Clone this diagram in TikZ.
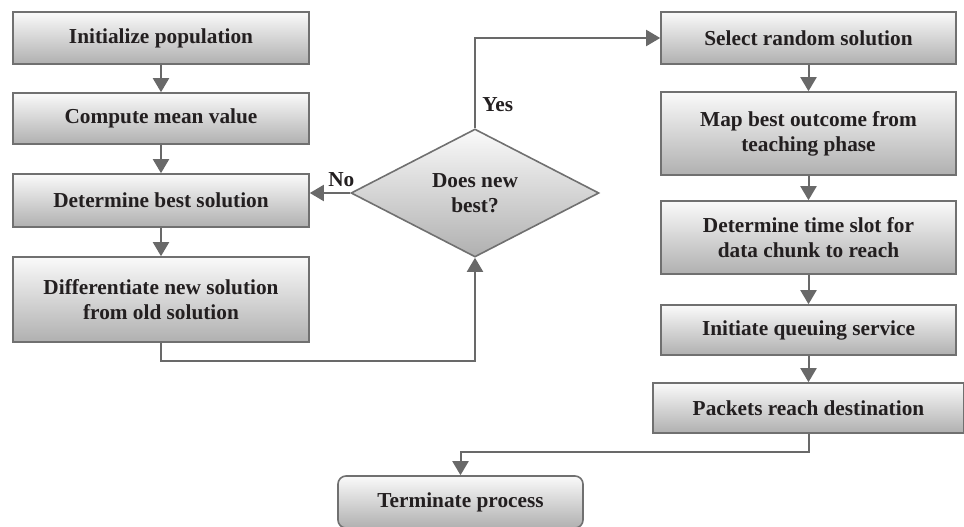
\documentclass[tikz,border=0pt]{standalone}
\usepackage{fontspec}
\setmainfont{Liberation Serif}
\usetikzlibrary{shapes.geometric, arrows.meta}

\definecolor{linie}{RGB}{105,105,105}
\definecolor{rahmen}{RGB}{112,112,112}
\definecolor{schrift}{RGB}{35,31,32}

\tikzset{
	kasten/.style={draw=rahmen, line width=1.6pt, top color=gray!4, bottom color=gray!62, text=schrift, font=\fontsize{21.3}{25}\selectfont\bfseries, align=center, inner sep=0pt},
	raute/.style={kasten, diamond, aspect=1.94},
	pfeil/.style={draw=linie, line width=2pt, -{Triangle[width=16pt,length=14pt]}},
	marke/.style={text=schrift, font=\fontsize{21.3}{25}\selectfont\bfseries}
}

\begin{document}
\begin{tikzpicture}[x=1pt, y=-1pt]
		\useasboundingbox (0,0) rectangle (964,527);
		
		% linke Spalte
		\node[kasten, minimum width=296pt, minimum height=52pt] (init) at (161,38) {Initialize population};
		\node[kasten, minimum width=296pt, minimum height=51pt] (mean) at (161,118.5) {Compute mean value};
		\node[kasten, minimum width=296pt, minimum height=53pt] (best) at (161,200.5) {Determine best solution};
		\node[kasten, minimum width=296pt, minimum height=85pt] (diff) at (161,299.5) {Differentiate new solution\\from old solution};
		
		% Entscheidung
		\node[raute, minimum width=248pt, minimum height=128pt] (dia) at (475,193) {Does new\\best?};
		
		% rechte Spalte
		\node[kasten, minimum width=295pt, minimum height=52pt] (sel) at (808.5,38) {Select random solution};
		\node[kasten, minimum width=295pt, minimum height=83pt] (map) at (808.5,133.5) {Map best outcome from\\teaching phase};
		\node[kasten, minimum width=295pt, minimum height=73pt] (slot) at (808.5,237.5) {Determine time slot for\\data chunk to reach};
		\node[kasten, minimum width=295pt, minimum height=50pt] (queue) at (808.5,330) {Initiate queuing service};
		\node[kasten, minimum width=311pt, minimum height=50pt] (pkt) at (808.5,408) {Packets reach destination};
		
		% Ende
		\node[kasten, rounded corners=8pt, minimum width=245pt, minimum height=52pt] (term) at (460.5,502) {Terminate process};
		
		% Pfeile
		\draw[pfeil] (init) -- (mean);
		\draw[pfeil] (mean) -- (best);
		\draw[pfeil] (best) -- (diff);
		\draw[pfeil] (diff.south) -- ++(0,18) -| (dia.south);
		\draw[pfeil] (dia.west) -- node[marke, above, pos=0.22, yshift=2pt] (nein) {No} (dia.west -| best.east);
		\draw[pfeil] (dia.north) |- node[marke, right, pos=0.13, xshift=3pt] (ja) {Yes} (sel.west);
		\draw[pfeil] (sel) -- (map);
		\draw[pfeil] (map) -- (slot);
		\draw[pfeil] (slot) -- (queue);
		\draw[pfeil] (queue) -- (pkt);
		\draw[pfeil] (pkt.south) -- ++(0,18) -| (term.north);
	\end{tikzpicture}
\end{document}
